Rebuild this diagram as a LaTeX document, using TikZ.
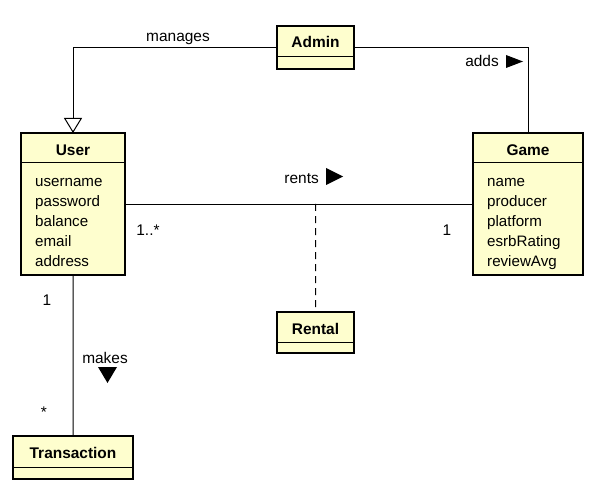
\documentclass[tikz,border=0pt]{standalone}
\usepackage{fontspec}
\setmainfont{Liberation Sans}
\usetikzlibrary{arrows.meta}
\definecolor{umlfill}{HTML}{FEFECE}
\tikzset{
  cls/.style={draw=black, line width=2.5bp, fill=umlfill, anchor=north west, inner sep=0pt, outer sep=0pt},
  hdr/.style={font=\fontsize{15.5}{17}\selectfont\bfseries, inner sep=0pt},
  attrs/.style={font=\fontsize{15.2}{20}\selectfont, align=left, anchor=north west, inner sep=0pt},
  lbl/.style={font=\fontsize{15.5}{17}\selectfont, inner sep=0pt},
  divider/.style={line width=1bp, draw=black},
  rel/.style={line width=1bp, draw=black},
}
\begin{document}
\begin{tikzpicture}[x=1bp,y=-1bp]
\useasboundingbox (0,0) rectangle (594,490);
% Admin
\node[cls, minimum width=77bp, minimum height=43bp] (admin) at (277,26) {};
\node[hdr] (adminh) at (315.5,42) {Admin};
\draw[divider] (277,57) -- (354,57);
% User
\node[cls, minimum width=104bp, minimum height=142bp] (user) at (21,133) {};
\node[hdr] (userh) at (73,150) {User};
\draw[divider] (21,163) -- (125,163);
\node[attrs] (usera) at (35,178) {username\\password\\balance\\email\\address};
% Game
\node[cls, minimum width=110bp, minimum height=142bp] (game) at (473,133) {};
\node[hdr] (gameh) at (528,150) {Game};
\draw[divider] (473,163) -- (583,163);
\node[attrs] (gamea) at (487,178) {name\\producer\\platform\\esrbRating\\reviewAvg};
% Rental
\node[cls, minimum width=77bp, minimum height=41bp] (rental) at (277,312) {};
\node[hdr] (rentalh) at (315.5,329) {Rental};
\draw[divider] (277,342) -- (354,342);
% Transaction
\node[cls, minimum width=120bp, minimum height=43bp] (trans) at (13,436) {};
\node[hdr] (transh) at (73,453) {Transaction};
\draw[divider] (13,467) -- (133,467);
% relations
\draw[rel, -{Triangle[open, width=18bp, length=15bp]}] (admin.west) -| (user.north);
\draw[rel] (admin.east) -| (game.north);
\draw[rel] (user.east) -- (game.west);
\coordinate (rmid) at (315.5,204);
\draw[rel, dash pattern=on 7bp off 5bp] (rmid) -- (rental.north);
\draw[rel] (user.south) -- (trans.north);
% labels
\node[lbl] (lmanages) at (178,39) {manages};
\node[lbl, anchor=east] (ladds) at (499,61) {adds};
\fill (506,55) -- (523,61.5) -- (506,68) -- cycle;
\node[lbl, anchor=east] (lrents) at (319,179) {rents};
\fill (326,168) -- (343,176.5) -- (326,185) -- cycle;
\node[lbl] (lmakes) at (105,358) {makes};
\fill (98,367) -- (117,367) -- (107.5,383) -- cycle;
\node[lbl] (m1) at (148,230) {1..*};
\node[lbl] (m2) at (447,230) {1};
\node[lbl] (m3) at (47,300) {1};
\node[lbl] (m4) at (44,412) {*};
\end{tikzpicture}
\end{document}
